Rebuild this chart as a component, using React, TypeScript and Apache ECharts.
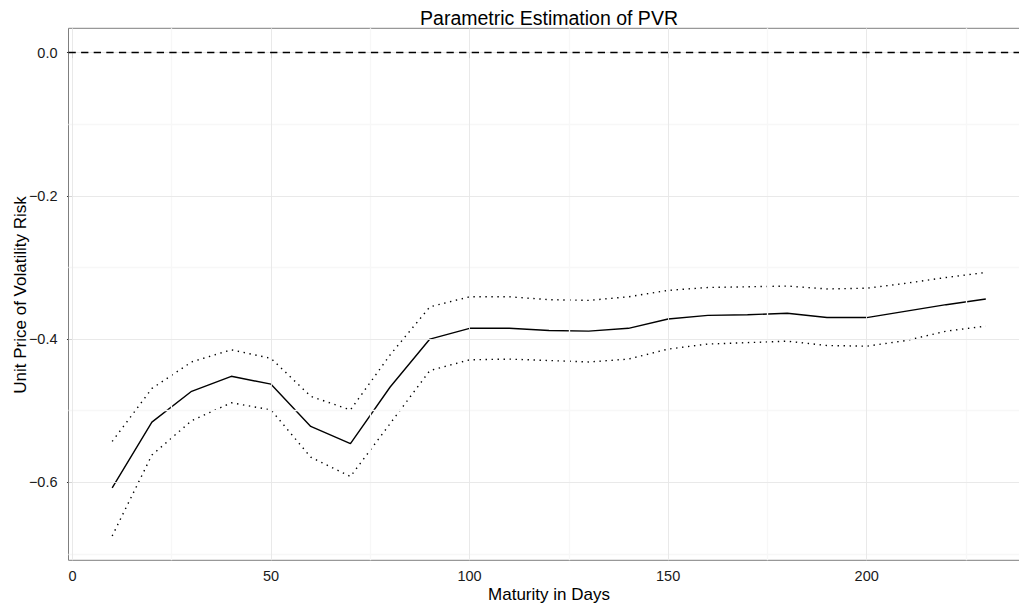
import React, { useEffect, useRef } from "react";
import * as echarts from "echarts";

const maturity = [10, 20, 30, 40, 50, 60, 70, 80, 90, 100, 110, 120, 130, 140, 150, 160, 170, 180, 190, 200, 210, 220, 230];
const estimate = [-0.608, -0.516, -0.473, -0.452, -0.463, -0.522, -0.546, -0.467, -0.400, -0.385, -0.385, -0.388, -0.389, -0.385, -0.372, -0.367, -0.366, -0.364, -0.370, -0.370, -0.361, -0.352, -0.344];
const upperBand = [-0.543, -0.469, -0.432, -0.415, -0.427, -0.480, -0.499, -0.422, -0.355, -0.341, -0.341, -0.345, -0.346, -0.341, -0.332, -0.328, -0.327, -0.326, -0.330, -0.329, -0.322, -0.314, -0.307];
const lowerBand = [-0.675, -0.562, -0.514, -0.489, -0.499, -0.565, -0.592, -0.518, -0.444, -0.429, -0.428, -0.430, -0.432, -0.428, -0.414, -0.407, -0.405, -0.403, -0.409, -0.410, -0.402, -0.389, -0.382];

const xTicks = [0, 50, 100, 150, 200];
const xMinor = [25, 75, 125, 175, 225];
const yTicks = [0, -0.2, -0.4, -0.6];
const yMinor = [-0.1, -0.3, -0.5, -0.7];
const referenceLevel = 0;

const FONT = "Liberation Sans, Arial, Helvetica, sans-serif";

export default function App() {
  const ref = useRef<HTMLDivElement>(null);
  useEffect(() => {
    document.body.style.margin = "0";
    document.body.style.overflow = "hidden";
    const chart = echarts.init(ref.current!, null, { renderer: "svg" });
    const pair = (ys: number[]) => maturity.map((x, i) => [x, ys[i]]);
    const majorStyle = { color: "#e6e6e6", width: 0.9, type: "solid" };
    const minorStyle = { color: "#f7f7f7", width: 1.3, type: "solid" };
    const gridLines = [
      ...xMinor.map((v) => ({ xAxis: v, lineStyle: minorStyle })),
      ...yMinor.map((v) => ({ yAxis: v, lineStyle: minorStyle })),
      ...xTicks.map((v) => ({ xAxis: v, lineStyle: majorStyle })),
      ...yTicks.map((v) => ({ yAxis: v, lineStyle: majorStyle })),
    ];
    const fmtY = (v: number) => {
      const s = Math.abs(v).toFixed(1);
      return v < -1e-9 ? "\u2212" + s : s;
    };
    chart.setOption({
      animation: false,
      backgroundColor: "#ffffff",
      textStyle: { fontFamily: FONT },
      graphic: [
        {
          type: "text",
          x: 549,
          y: 18,
          style: {
            text: "Parametric Estimation of PVR",
            font: `19.5px ${FONT}`,
            fill: "#000",
            textAlign: "center",
            textVerticalAlign: "middle",
          },
        },
        {
          type: "text",
          x: 20,
          y: 295,
          rotation: Math.PI / 2,
          style: {
            text: "Unit Price of Volatility Risk",
            font: `17px ${FONT}`,
            fill: "#000",
            textAlign: "center",
            textVerticalAlign: "middle",
          },
        },
      ],
      grid: {
        left: 68.5,
        top: 28.3,
        right: -10.5,
        bottom: 44.7,
        show: true,
        borderColor: "#7f7f7f",
        borderWidth: 1,
        backgroundColor: "transparent",
        containLabel: false,
        outerBoundsMode: "none",
      },
      xAxis: {
        type: "value",
        min: -1,
        max: 241,
        name: "Maturity in Days",
        nameLocation: "middle",
        nameGap: 26,
        nameMoveOverlap: false,
        nameTextStyle: { fontSize: 17, color: "#000", fontFamily: FONT },
        axisLine: { show: false },
        axisTick: { show: true, length: 5.5, customValues: xTicks, lineStyle: { color: "#333", width: 1 } },
        axisLabel: { customValues: xTicks, margin: 8, fontSize: 14.5, color: "#1a1a1a", fontFamily: FONT },
        splitLine: { show: false },
      },
      yAxis: {
        type: "value",
        min: -0.709,
        max: 0.034,
        axisLine: { show: false },
        axisTick: { show: true, length: 5.5, customValues: yTicks, lineStyle: { color: "#333", width: 1 } },
        axisLabel: { customValues: yTicks, margin: 11, fontSize: 14.5, color: "#1a1a1a", fontFamily: FONT, formatter: fmtY },
        splitLine: { show: false },
      },
      series: [
        {
          type: "line",
          z: 1,
          silent: true,
          symbol: "none",
          data: [[maturity[0], estimate[0]]],
          lineStyle: { opacity: 0 },
          markLine: {
            silent: true,
            animation: false,
            symbol: ["none", "none"],
            label: { show: false },
            data: gridLines,
          },
        },
        {
          type: "line",
          z: 2,
          silent: true,
          symbol: "none",
          data: [[maturity[0], estimate[0]]],
          lineStyle: { opacity: 0 },
          markLine: {
            silent: true,
            animation: false,
            symbol: ["none", "none"],
            label: { show: false },
            data: [{ yAxis: referenceLevel, lineStyle: { color: "#000", width: 1.4, type: [7.3, 5.3] } }],
          },
        },
        {
          type: "line",
          z: 3,
          symbol: "none",
          data: pair(upperBand),
          lineStyle: { color: "#000", width: 1.4, type: [1.4, 4.6] },
        },
        {
          type: "line",
          z: 3,
          symbol: "none",
          data: pair(lowerBand),
          lineStyle: { color: "#000", width: 1.4, type: [1.4, 4.6] },
        },
        {
          type: "line",
          z: 4,
          symbol: "none",
          data: pair(estimate),
          lineStyle: { color: "#000", width: 1.4, type: "solid" },
        },
      ],
    });
    return () => chart.dispose();
  }, []);
  return <div ref={ref} style={{ width: 1019, height: 605 }} />;
}
